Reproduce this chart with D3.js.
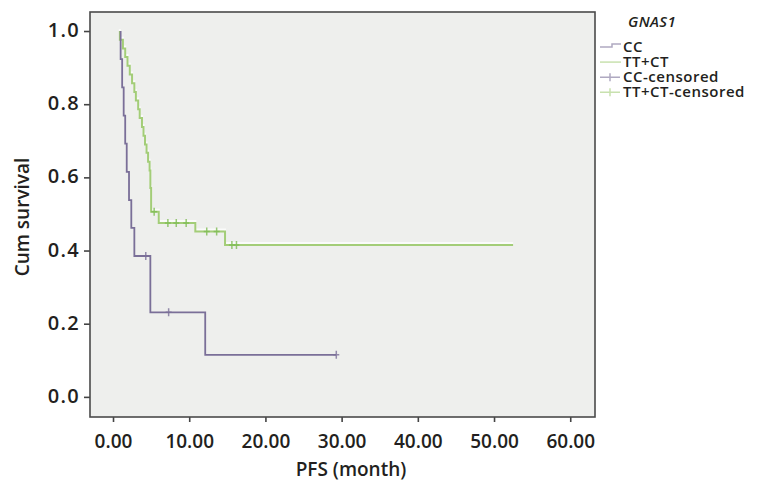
<!DOCTYPE html>
<html>
<head>
<meta charset="utf-8">
<script src="https://cdn.jsdelivr.net/npm/d3@7"></script>
<style>
  body { margin: 0; background: #fff; }
  svg text { font-family: "Open Sans", "Noto Sans", sans-serif; fill: #231f20; }
</style>
</head>
<body>
<div id="chart"></div>
<script>
// Kaplan-Meier steps: [time, survival after event]
const ccTimes = [1.0, 1.2, 1.4, 1.6, 1.8, 2.1, 2.4, 2.8, 4.9, 12.1];
const ccSurv  = [0.923, 0.846, 0.769, 0.692, 0.615, 0.538, 0.462, 0.385, 0.231, 0.115];
const ccEnd = 29.3;
const ccCensored = [[4.3, 0.385], [7.3, 0.231], [29.3, 0.115]];

const ttTimes = [0.9, 1.3, 1.6, 1.9, 2.2, 2.5, 2.8, 3.0, 3.3, 3.5, 3.8, 4.0, 4.2, 4.4, 4.6, 4.8, 4.9, 5.0, 6.0, 10.8, 14.7];
const ttSurv  = [0.976, 0.952, 0.929, 0.905, 0.881, 0.857, 0.833, 0.810, 0.786, 0.762, 0.738, 0.714, 0.690, 0.667, 0.643, 0.619, 0.571, 0.506, 0.475, 0.452, 0.415];
const ttEnd = 52.5;
const ttCensored = [[5.4, 0.506], [7.2, 0.475], [8.3, 0.475], [9.6, 0.475], [12.3, 0.452], [13.6, 0.452], [15.6, 0.415], [16.2, 0.415]];

const xTicks = [0, 10, 20, 30, 40, 50, 60];
const yTicks = [0, 0.2, 0.4, 0.6, 0.8, 1.0];
const legendTitle = "GNAS1";
const legendLabels = ["CC", "TT+CT", "CC-censored", "TT+CT-censored"];

const ccColor = "#7a6f98";
const ttColor = "#a3cd78";

const width = 762, height = 482;
const frame = { left: 90, right: 595, top: 12, bottom: 417 };

const svg = d3.select("#chart").append("svg")
    .attr("width", width)
    .attr("height", height);

const x = d3.scaleLinear().domain([-3.02, 63.25]).range([frame.left, frame.right]);
const y = d3.scaleLinear().domain([-0.055, 1.052]).range([frame.bottom, frame.top]);

svg.append("rect")
    .attr("x", frame.left).attr("y", frame.top)
    .attr("width", frame.right - frame.left)
    .attr("height", frame.bottom - frame.top)
    .attr("fill", "#eeefed");

function stepPoints(times, surv, end) {
    const pts = [[times[0], 1]];
    times.forEach((t, i) => {
        pts.push([t, i === 0 ? 1 : surv[i - 1]]);
        pts.push([t, surv[i]]);
    });
    pts.push([end, surv[surv.length - 1]]);
    return pts;
}

const line = d3.line().x(d => x(d[0])).y(d => y(d[1]));

// faint white halo over the tail of the green curve
svg.append("path")
    .datum(stepPoints(ttTimes, ttSurv, ttEnd))
    .attr("d", line)
    .attr("transform", "translate(0,-2)")
    .attr("fill", "none")
    .attr("stroke", "#fafbfa")
    .attr("stroke-width", 2);

svg.append("path")
    .datum(stepPoints(ttTimes, ttSurv, ttEnd))
    .attr("d", line)
    .attr("fill", "none")
    .attr("stroke", ttColor)
    .attr("stroke-width", 2);

svg.append("path")
    .datum(stepPoints(ccTimes, ccSurv, ccEnd))
    .attr("d", line)
    .attr("fill", "none")
    .attr("stroke", ccColor)
    .attr("stroke-width", 1.8);

function censorMarks(data, color) {
    svg.append("g").selectAll("path")
        .data(data)
        .enter().append("path")
        .attr("d", d => {
            const cx = x(d[0]), cy = y(d[1]);
            return `M${cx - 3},${cy}H${cx + 3}M${cx},${cy - 4}V${cy + 4}`;
        })
        .attr("stroke", color)
        .attr("stroke-opacity", 0.8)
        .attr("stroke-width", 1.5);
}
censorMarks(ccCensored, ccColor);
censorMarks(ttCensored, "#7dbb52");

// axes
const xAxis = svg.append("g")
    .attr("transform", `translate(0,${frame.bottom})`)
    .call(d3.axisBottom(x).tickValues(xTicks).tickFormat(d3.format(".2f")).tickSizeOuter(0).tickSize(5));
const yAxis = svg.append("g")
    .attr("transform", `translate(${frame.left},0)`)
    .call(d3.axisLeft(y).tickValues(yTicks).tickFormat(d3.format(".1f")).tickSizeOuter(0).tickSize(6));

[xAxis, yAxis].forEach(a => {
    a.select(".domain").remove();
    a.selectAll(".tick line").attr("stroke", "#444").attr("stroke-width", 1.6);
    a.selectAll(".tick text")
        .attr("fill", "#231f20")
        .attr("font-weight", 600)
        .attr("font-family", "'Open Sans', sans-serif");
});
xAxis.selectAll(".tick text").attr("font-size", "19px").attr("dy", "0").attr("y", 31);
yAxis.selectAll(".tick text")
    .attr("font-size", "20px")
    .attr("letter-spacing", "1.3px")
    .attr("x", -10).attr("dy", "0.28em");

svg.append("rect")
    .attr("x", frame.left).attr("y", frame.top)
    .attr("width", frame.right - frame.left)
    .attr("height", frame.bottom - frame.top)
    .attr("fill", "none")
    .attr("stroke", "#4a4a4a")
    .attr("stroke-width", 1.6);

svg.append("text")
    .attr("x", 351).attr("y", 476)
    .attr("text-anchor", "middle")
    .attr("font-size", "19px")
    .attr("font-weight", 600)
    .text("PFS (month)");

svg.append("text")
    .attr("transform", "translate(29,217) rotate(-90)")
    .attr("text-anchor", "middle")
    .attr("font-size", "19px")
    .attr("font-weight", 600)
    .text("Cum survival");

// legend
const legend = svg.append("g");
legend.append("text")
    .attr("x", 628).attr("y", 27)
    .attr("font-size", "15px")
    .attr("font-weight", 600)
    .attr("font-style", "italic")
    .attr("letter-spacing", "0.4px")
    .text(legendTitle);

const legendColors = [ccColor, ttColor, ccColor, ttColor];
legendLabels.forEach((lab, i) => {
    const ly = 47 + i * 15.1;
    legend.append("text")
        .attr("x", 623).attr("y", ly + 5)
        .attr("font-size", "15px")
        .attr("font-weight", 600)
        .attr("letter-spacing", "0.5px")
        .text(lab);
    if (i < 2) {
        legend.append("path")
            .attr("d", i === 0 ? `M600,${ly}H612V${ly - 3}H621` : `M600,${ly}H621`)
            .attr("fill", "none")
            .attr("stroke", legendColors[i])
            .attr("stroke-opacity", 0.6)
            .attr("stroke-width", 1.5);
    } else {
        legend.append("path")
            .attr("d", `M600,${ly}H620M610,${ly - 4}V${ly + 4}`)
            .attr("stroke", legendColors[i])
            .attr("stroke-opacity", 0.6)
            .attr("stroke-width", 1.5);
    }
});
</script>
</body>
</html>
